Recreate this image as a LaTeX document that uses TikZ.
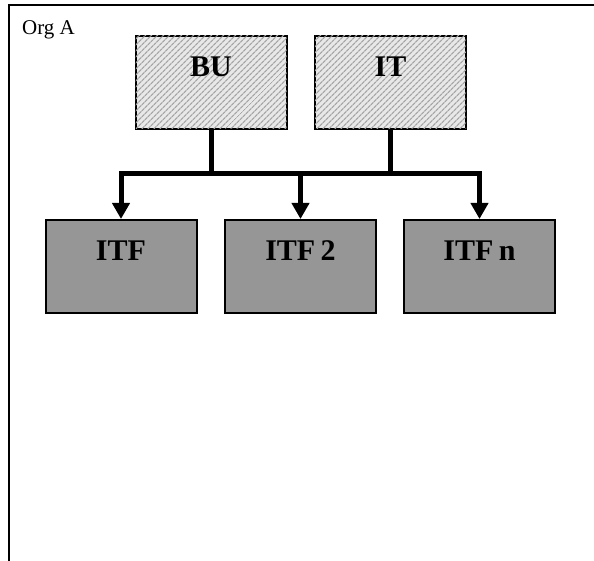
\documentclass[tikz,border=0pt]{standalone}
\usepackage{fontspec}
\setmainfont{Liberation Serif}
\usetikzlibrary{arrows.meta,patterns.meta}
\definecolor{itfgray}{RGB}{150,150,150}
\definecolor{hatchbg}{RGB}{232,232,232}
\definecolor{hatchline}{RGB}{165,165,165}
\tikzset{
  boxbase/.style={draw=black, line width=2pt, rectangle, inner sep=0pt,
    text width=151pt, align=center, text height=41pt, text depth=52pt,
    anchor=north, font=\fontsize{30}{31}\selectfont\bfseries},
  topbox/.style={boxbase, fill=hatchbg,
    postaction={pattern={Lines[angle=45,distance=4pt,line width=1.3pt]}, pattern color=hatchline}},
  itfbox/.style={boxbase, fill=itfgray},
  conn/.style={draw=black, line width=5pt},
  arr/.style={conn, -{Triangle[width=17pt,length=16pt]}},
  frame/.style={draw=black, line width=2.5pt},
  orglabel/.style={anchor=base west, font=\fontsize{21}{23}\selectfont, inner sep=0pt}
}
\begin{document}
\begin{tikzpicture}[x=1pt,y=-1pt]
\useasboundingbox (0,0) rectangle (594,561);
\clip (0,0) rectangle (594,561);
\fill[white] (0,0) rectangle (594,561);
\draw[frame] (9,5) rectangle (620,600);
\node[orglabel] (org) at (22,35) {Org A};
\node[topbox] (bu) at (211,35) {BU};
\node[topbox] (it) at (390.5,35) {IT};
\node[itfbox] (itf1) at (121,219) {ITF};
\node[itfbox] (itf2) at (300.5,219) {ITF\kern0.18em 2};
\node[itfbox] (itfn) at (479.5,219) {ITF\kern0.18em n};
\coordinate (bar) at (300.5,174);
\draw[conn] (bu.south) -- (bu.south |- bar);
\draw[conn] (it.south) -- (it.south |- bar);
\draw[arr] (bar) -| (itf1.north);
\draw[arr] (bar) -| (itfn.north);
\draw[arr] (bar) -- (itf2.north);
\end{tikzpicture}
\end{document}
